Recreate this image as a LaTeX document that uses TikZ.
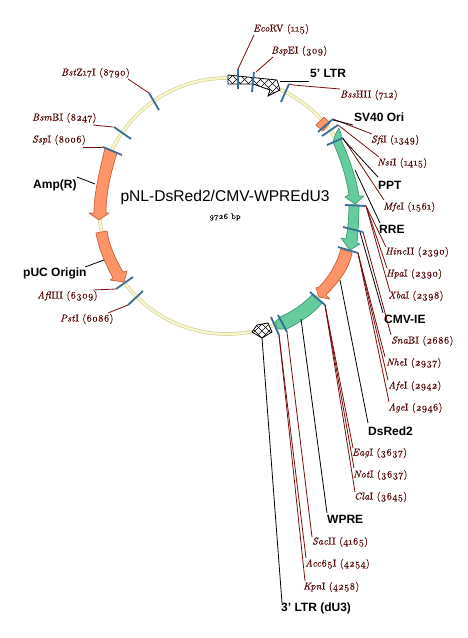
\documentclass[tikz,border=0pt]{standalone}
\usepackage{fontspec}
\setmainfont{Liberation Sans}
\newfontfamily\enzfont[LetterSpace=1.5,Numbers=OldStyle,FakeBold=0.25]{Latin Modern Roman}
\definecolor{tickblue}{HTML}{3A6F95}
\definecolor{enzred}{HTML}{7A0C0C}
\definecolor{enztext}{HTML}{560808}
\definecolor{orangefill}{HTML}{FF9468}
\definecolor{orangeedge}{HTML}{C8603A}
\definecolor{greenfill}{HTML}{66CC9E}
\definecolor{greenedge}{HTML}{3E9A78}
\definecolor{ringedge}{HTML}{D6D29C}
\definecolor{ringfill}{HTML}{F8F6CC}
\tikzset{
  x=1pt,y=-1pt,
  ticks/.style={draw=tickblue,line width=1.8pt},
  enzline/.style={draw=enzred,line width=.8pt},
  featline/.style={draw=black,line width=.8pt},
  enzlabel/.style={anchor=west,inner sep=0pt,font=\enzfont\fontsize{10}{12}\selectfont,text=enztext},
  featlabel/.style={anchor=west,inner sep=0pt,font=\bfseries\fontsize{12}{14}\selectfont,text=black},
  orangearrow/.style={fill=orangefill,draw=orangeedge,line width=.7pt,line join=round},
  greenarrow/.style={fill=greenfill,draw=greenedge,line width=.7pt,line join=round},
}
\newcommand{\enz}[2]{\textit{#1}#2}
\begin{document}
\begin{tikzpicture}
\useasboundingbox (0,0) rectangle (467,638);
\fill[white] (0,0) rectangle (467,638);
% backbone
\coordinate (c) at (227,206);
\draw[ringedge,line width=3.6pt] (c) circle[radius=128];
\draw[ringfill,line width=2.2pt] (c) circle[radius=128];
% feature arrows
\draw[orangearrow] (105,148) -- (117,153) .. controls (110,175) and (106,195) .. (106,213) -- (109,213) -- (99,220) -- (89,213) -- (94,213) .. controls (94,200) and (96,185) .. (105,148) -- cycle;
\draw[orangearrow] (96,233) -- (107,231) .. controls (109,245) and (115,258) .. (123,272) -- (127,271) -- (124,282) -- (110,280) -- (113,278) .. controls (106,265) and (99,250) .. (96,233) -- cycle;
\draw[greenarrow] (339,128) -- (341,134) -- (342,142) .. controls (350,160) and (356,178) .. (359,196) -- (364,196) -- (355,204) -- (345,197) -- (349,195) .. controls (346,175) and (340,158) .. (333,142) -- (336,133) -- cycle;
\draw[greenarrow] (349,205) -- (359,205) .. controls (359,218) and (358,232) .. (357,243) -- (360,244) -- (350,250) -- (341,238) -- (346,239) .. controls (348,228) and (349,216) .. (349,205) -- cycle;
\draw[orangearrow] (341,249) -- (352,253) .. controls (349,268) and (342,278) .. (326,295) -- (330,299) -- (319,297) -- (316,288) -- (319,287) .. controls (330,276) and (337,263) .. (341,249) -- cycle;
\draw[greenarrow] (312,295) -- (322,303) .. controls (312,315) and (300,322) .. (287,329) -- (278,329) -- (275,322) -- (280,317) .. controls (292,312) and (303,304) .. (312,295) -- cycle;
\draw[orangearrow] (316,125) -- (324,117) -- (330,123) -- (323,131) -- cycle;
% hatched LTRs
\path[fill=white] (228,75) -- (277,80) -- (280,90) -- (268,96) -- (270,90) -- (253,84) -- (228,84) -- cycle;
\begin{scope}
  \clip (228,75) -- (277,80) -- (280,90) -- (268,96) -- (270,90) -- (253,84) -- (228,84) -- cycle;
  \foreach \d in {0,8,...,88} {
    \draw[black,line width=.55pt] (\d+195,70) -- (\d+230,105);
    \draw[black,line width=.55pt] (\d+195,105) -- (\d+230,70);
  }
\end{scope}
\draw[black,line width=.8pt] (228,75) -- (277,80) -- (280,90) -- (268,96) -- (270,90) -- (253,84) -- (228,84) -- cycle;
\path[fill=white] (252,332) -- (257,325) -- (268,323) -- (272,332) -- (262,338) -- cycle;
\begin{scope}
  \clip (252,332) -- (257,325) -- (268,323) -- (272,332) -- (262,338) -- cycle;
  \foreach \d in {0,7,...,42} {
    \draw[black,line width=.5pt] (\d+225,315) -- (\d+250,340);
    \draw[black,line width=.5pt] (\d+225,340) -- (\d+250,315);
  }
\end{scope}
\draw[black,line width=.8pt] (252,332) -- (257,325) -- (268,323) -- (272,332) -- (262,338) -- cycle;
% tick coordinates
\coordinate (tEco) at (238,69);   \coordinate (bEco) at (238,89);
\coordinate (tBsp) at (254,72);   \coordinate (bBsp) at (252,92);
\coordinate (tBss) at (289,84);   \coordinate (bBss) at (281,102);
\coordinate (tSfi) at (333,119);  \coordinate (bSfi) at (318,132);
\coordinate (tNsi) at (338,125);  \coordinate (bNsi) at (322,136);
\coordinate (tMfe) at (343,138);  \coordinate (bMfe) at (327,145);
\coordinate (tHinc) at (366,206); \coordinate (bHinc) at (345,205);
\coordinate (tSna) at (363,232);  \coordinate (bSna) at (343,227);
\coordinate (tNhe) at (358,253);  \coordinate (bNhe) at (338,247);
\coordinate (tEag) at (325,305);  \coordinate (bEag) at (310,292);
\coordinate (tSac) at (287,332);  \coordinate (bSac) at (278,315);
\coordinate (tAcc) at (279,335);  \coordinate (bAcc) at (271,317);
\coordinate (tBst) at (149,93);   \coordinate (bBst) at (159,110);
\coordinate (tBsm) at (114,127);  \coordinate (bBsm) at (131,139);
\coordinate (tSsp) at (103,147);  \coordinate (bSsp) at (122,155);
\coordinate (tAfl) at (116,289);  \coordinate (bAfl) at (133,277);
\coordinate (tPst) at (128,305);  \coordinate (bPst) at (143,291);
% feature anchors
\coordinate (fLTR) at (280,81);
\coordinate (fSV) at (333,120);
\coordinate (fPPT) at (342,138);
\coordinate (fRRE) at (355,170);
\coordinate (fCMV) at (360,232);
\coordinate (fDs) at (340,280);
\coordinate (fWP) at (301,319);
\coordinate (fLTR3) at (262,338);
\coordinate (fAmp) at (95,184);
\coordinate (fPuc) at (104,260);
% labels
\node[enzlabel] (lEco) at (253,29) {\enz{Eco}{RV} (115)};
\node[enzlabel] (lBsp) at (271,51) {\enz{Bsp}{EI} (309)};
\node[enzlabel] (lBss) at (340,95) {\enz{Bss}{HII} (712)};
\node[enzlabel] (lSfi) at (371,140) {\enz{Sfi}{I} (1349)};
\node[enzlabel] (lNsi) at (377,163) {\enz{Nsi}{I} (1415)};
\node[enzlabel] (lMfe) at (383,207) {\enz{Mfe}{I} (1561)};
\node[enzlabel] (lHinc) at (385,252) {\enz{Hinc}{II} (2390)};
\node[enzlabel] (lHpa) at (386,274) {\enz{Hpa}{I} (2390)};
\node[enzlabel] (lXba) at (388,296) {\enz{Xba}{I} (2398)};
\node[enzlabel] (lSna) at (391,341) {\enz{Sna}{BI} (2686)};
\node[enzlabel] (lNhe) at (386,363) {\enz{Nhe}{I} (2937)};
\node[enzlabel] (lAfe) at (388,386) {\enz{Afe}{I} (2942)};
\node[enzlabel] (lAge) at (388,408) {\enz{Age}{I} (2946)};
\node[enzlabel] (lEag) at (352,453) {\enz{Eag}{I} (3637)};
\node[enzlabel] (lNot) at (353,475) {\enz{Not}{I} (3637)};
\node[enzlabel] (lCla) at (354,497) {\enz{Cla}{I} (3645)};
\node[enzlabel] (lSac) at (312,542) {\enz{Sac}{II} (4165)};
\node[enzlabel] (lAcc) at (305,564) {\enz{Acc}{65I} (4254)};
\node[enzlabel] (lKpn) at (303,587) {\enz{Kpn}{I} (4258)};
\node[enzlabel] (lBst) at (61,73) {\enz{Bst}{Z17I} (8790)};
\node[enzlabel] (lBsm) at (32,118) {\enz{Bsm}{BI} (8247)};
\node[enzlabel] (lSsp) at (32,140) {\enz{Ssp}{I} (8006)};
\node[enzlabel] (lAfl) at (37,296) {\enz{Afl}{III} (6309)};
\node[enzlabel] (lPst) at (60,319) {\enz{Pst}{I} (6086)};
\node[featlabel] (nLTR) at (310,73) {5' LTR};
\node[featlabel] (nSV) at (354,117) {SV40 Ori};
\node[featlabel] (nPPT) at (378,185) {PPT};
\node[featlabel] (nRRE) at (379,229) {RRE};
\node[featlabel] (nCMV) at (384,319) {CMV-IE};
\node[featlabel] (nDs) at (368,431) {DsRed2};
\node[featlabel] (nWP) at (327,519) {WPRE};
\node[featlabel] (nLTR3) at (281,608) {3' LTR (dU3)};
\node[featlabel] (nAmp) at (33,185) {Amp(R)};
\node[featlabel] (nPuc) at (23,273) {pUC Origin};
\node[anchor=center,inner sep=0pt,font=\fontsize{15.6}{18}\selectfont] (title) at (225,197) {pNL-DsRed2/CMV-WPREdU3};
\node[anchor=center,inner sep=0pt,font=\enzfont\fontsize{8}{10}\selectfont] (size) at (225,217) {9726 bp};
% connector free ends
\coordinate (eEco) at (254,35); \coordinate (eBsp) at (273,57);
\coordinate (eBss) at (340,89);
\coordinate (eSfi) at (372,134); \coordinate (eNsi) at (379,157);
\coordinate (eMfe) at (384,200); \coordinate (eHinc) at (386,247);
\coordinate (eHpa) at (387,268); \coordinate (eXba) at (390,292);
\coordinate (eSna) at (391,335); \coordinate (eNhe) at (385,357);
\coordinate (eAfe) at (388,380); \coordinate (eAge) at (389,402);
\coordinate (eEag) at (353,448); \coordinate (eNot) at (354,468);
\coordinate (eCla) at (355,492); \coordinate (eSac) at (312,537);
\coordinate (eAcc) at (306,558); \coordinate (eKpn) at (305,581);
\coordinate (eBst) at (128,79); \coordinate (eBsm) at (93,125);
\coordinate (eSsp) at (83,147); \coordinate (eAfl) at (93,290);
\coordinate (ePst) at (108,313);
\coordinate (gLTR) at (309,81); \coordinate (gSV) at (353,125);
\coordinate (gPPT) at (378,177); \coordinate (gRRE) at (380,223);
\coordinate (gCMV) at (383,313); \coordinate (gDs) at (368,423);
\coordinate (gWP) at (327,513); \coordinate (gLTR3) at (282,603);
\coordinate (gAmp) at (77,177); \coordinate (gPuc) at (85,267);
% connectors
\draw[enzline] (eEco) -- (tEco);
\draw[enzline] (eBsp) -- (256,72);
\draw[enzline] (eBss) -- (293,85) -- (tBss);
\draw[enzline] (eSfi) -- (tSfi);
\draw[enzline] (eNsi) -- (tNsi);
\draw[enzline] (eMfe) -- (tMfe);
\draw[enzline] (eHinc) -- (tHinc);
\draw[enzline] (eHpa) -- (tHinc);
\draw[enzline] (eXba) -- (tHinc);
\draw[enzline] (eSna) -- (tSna);
\draw[enzline] (eNhe) -- (tNhe);
\draw[enzline] (eAfe) -- (tNhe);
\draw[enzline] (eAge) -- (tNhe);
\draw[enzline] (eEag) -- (tEag);
\draw[enzline] (eNot) -- (tEag);
\draw[enzline] (eCla) -- (tEag);
\draw[enzline] (eSac) -- (tSac);
\draw[enzline] (eAcc) -- (tAcc);
\draw[enzline] (eKpn) -- (tAcc);
\draw[enzline] (eBst) -- (tBst);
\draw[enzline] (eBsm) -- (113,127);
\draw[enzline] (eSsp) -- (tSsp);
\draw[enzline] (eAfl) -- (tAfl);
\draw[enzline] (ePst) -- (tPst);
\draw[featline] (gLTR) -- (fLTR);
\draw[featline] (gSV) -- (fSV);
\draw[featline] (gPPT) -- (fPPT);
\draw[featline] (gRRE) -- (fRRE);
\draw[featline] (gCMV) -- (fCMV);
\draw[featline] (gDs) -- (fDs);
\draw[featline] (gWP) -- (fWP);
\draw[featline] (gLTR3) -- (fLTR3);
\draw[featline] (gAmp) -- (fAmp);
\draw[featline] (gPuc) -- (fPuc);
% ticks on top
\foreach \n in {Eco,Bsp,Bss,Sfi,Nsi,Mfe,Hinc,Sna,Nhe,Eag,Sac,Acc,Bst,Bsm,Ssp,Afl,Pst}
  \draw[ticks] (t\n) -- (b\n);
\end{tikzpicture}
\end{document}
